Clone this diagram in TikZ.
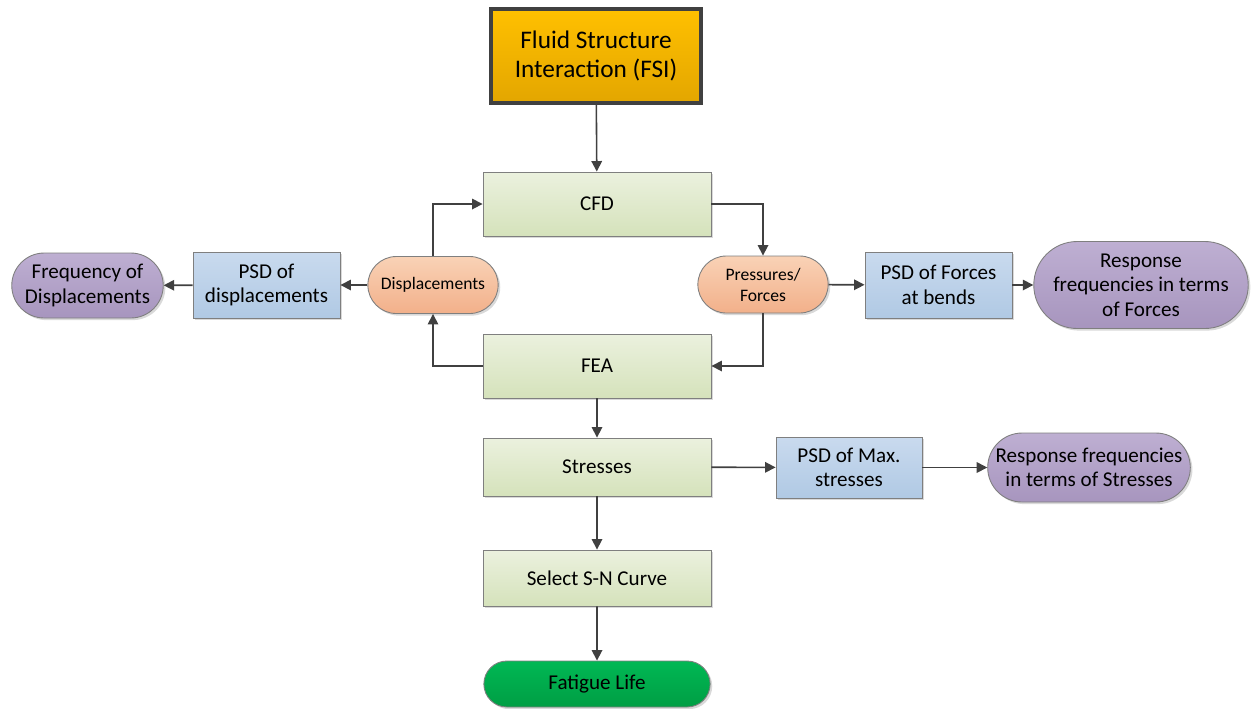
\documentclass[tikz,border=0pt]{standalone}
\usepackage{fontspec}
\setmainfont{Carlito}
\usepackage{tikz}
\usetikzlibrary{
arrows.meta,
positioning,
shapes.misc,
shadows
}
\definecolor{FSIgold}{HTML}{FFC000}
\definecolor{FSIdeep}{HTML}{E3A600}
\definecolor{StepTop}{HTML}{EBF1DE}
\definecolor{StepBot}{HTML}{D5E2BB}
\definecolor{OrangeTop}{HTML}{F9D2B6}
\definecolor{OrangeBot}{HTML}{F2B08A}
\definecolor{BlueTop}{HTML}{C9DAEE}
\definecolor{BlueBot}{HTML}{B0C9E4}
\definecolor{PurpleTop}{HTML}{BEAFD2}
\definecolor{PurpleBot}{HTML}{A795BE}
\definecolor{LifeTop}{HTML}{00B854}
\definecolor{LifeBot}{HTML}{009E44}
\definecolor{EdgeGray}{HTML}{7F7F7F}
\definecolor{ArrowGray}{HTML}{404040}

\begin{document}
\begin{tikzpicture}[x=1cm,y=1cm,>=Latex,
    shade box/.style={drop shadow={opacity=0.3, shadow xshift=1.2pt, shadow yshift=-1.2pt}},
    stepbox/.style={rectangle, draw=EdgeGray, line width=0.5pt, top color=StepTop, bottom color=StepBot,
        minimum width=4.56cm, font=\fontsize{12}{14}\selectfont, align=center, shade box},
    psdbox/.style={rectangle, draw=EdgeGray, line width=0.5pt, top color=BlueTop, bottom color=BlueBot,
        minimum width=2.94cm, minimum height=1.32cm, font=\fontsize{12}{14}\selectfont, align=center, shade box},
    outpill/.style={rounded rectangle, draw=EdgeGray, line width=0.5pt, top color=PurpleTop, bottom color=PurpleBot,
        font=\fontsize{12}{14}\selectfont, align=center, inner xsep=1pt, shade box},
    loadpill/.style={rounded rectangle, draw=EdgeGray, line width=0.5pt, top color=OrangeTop, bottom color=OrangeBot,
        minimum width=2.84cm, minimum height=1.14cm, font=\fontsize{10}{12}\selectfont, align=center, shade box},
    flow/.style={->, draw=ArrowGray, line width=0.9pt, >={Triangle[length=6pt,width=6pt]}}
    ]
    \useasboundingbox (0,0) rectangle (25.06,-14.16);

    % main column
    \node[rectangle, draw=ArrowGray, line width=2.4pt, top color=FSIgold, bottom color=FSIdeep,
        minimum width=4.2cm, minimum height=1.88cm, align=center, font=\fontsize{14.4}{17}\selectfont,
        shade box] (fsi) at (11.92,-1.12) {Fluid Structure\\Interaction (FSI)};
    \node[stepbox, minimum height=1.28cm] (cfd) at (11.94,-4.08) {CFD};
    \node[stepbox, minimum height=1.28cm] (fea) at (11.94,-7.32) {FEA};
    \node[stepbox, minimum height=1.16cm] (stress) at (11.94,-9.34) {Stresses};
    \node[stepbox, minimum height=1.12cm] (sncurve) at (11.94,-11.56) {Select S-N Curve};
    \node[rounded rectangle, draw=EdgeGray, line width=0.5pt, top color=LifeTop, bottom color=LifeBot,
        minimum width=4.76cm, minimum height=0.92cm, font=\fontsize{12}{14}\selectfont,
        shade box] (fatigue) at (11.94,-13.68) {Fatigue Life};

    % loads between CFD and FEA
    \node[loadpill] (disp) at (8.66,-5.70) {Displacements};
    \node[loadpill] (press) at (15.26,-5.69) {Pressures/\\Forces};

    % left branch
    \node[psdbox] (psddisp) at (5.33,-5.70) {PSD of\\displacements};
    \node[outpill, minimum width=3.1cm, minimum height=1.3cm] (freqdisp) at (1.75,-5.71) {Frequency of\\Displacements};

    % right branches
    \node[psdbox] (psdforce) at (18.77,-5.70) {PSD of Forces\\at bends};
    \node[outpill, minimum width=4.36cm, minimum height=1.74cm] (respforce) at (22.82,-5.70)
        {Response\\frequencies in terms\\of Forces};
    \node[psdbox, minimum width=2.92cm, minimum height=1.22cm] (psdmax) at (16.98,-9.35) {PSD of Max.\\stresses};
    \node[outpill, minimum width=4.04cm, minimum height=1.38cm] (respstress) at (21.78,-9.35)
        {Response frequencies\\in terms of Stresses};

    % connectors
    \draw[flow] (fsi) -- (cfd);
    \draw[flow] (cfd.east) -| (press.north);
    \draw[flow] (press.south) |- (fea.east);
    \draw[flow] (fea.west) -| (disp.south);
    \draw[flow] (disp.north) |- (cfd.west);
    \draw[flow] (disp) -- (psddisp);
    \draw[flow] (psddisp) -- (freqdisp);
    \draw[flow] (press) -- (psdforce);
    \draw[flow] (psdforce) -- (respforce);
    \draw[flow] (fea) -- (stress);
    \draw[flow] (stress) -- (psdmax);
    \draw[flow] (psdmax) -- (respstress);
    \draw[flow] (stress) -- (sncurve);
    \draw[flow] (sncurve) -- (fatigue);
\end{tikzpicture}
\end{document}
